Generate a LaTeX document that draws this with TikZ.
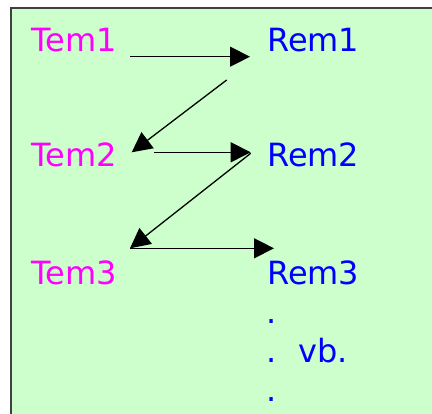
\documentclass[tikz,border=0pt]{standalone}
\usepackage{fontspec}
\setmainfont{DejaVu Sans}
\usetikzlibrary{arrows.meta}
\definecolor{boxfill}{HTML}{CCFFCC}
\definecolor{tcol}{HTML}{FF00FF}
\definecolor{rcol}{HTML}{0000FF}
\tikzset{
  lbl/.style={inner sep=0pt, anchor=base west, font=\fontsize{32}{38}\selectfont},
  tem/.style={lbl, text=tcol},
  rem/.style={lbl, text=rcol},
  arr/.style={line width=1.3pt, -{Triangle[length=20pt,width=20pt]}, shorten >=0pt}
}
\begin{document}
\begin{tikzpicture}[x=1pt,y=-1pt]
\useasboundingbox (0,0) rectangle (432,414);
\draw[fill=boxfill, draw=black!75, line width=2pt] (10.5,8) rectangle (445,430);
\node[tem] (t1) at (31,51.7) {Tem1};
\node[tem] (t2) at (31,166.7) {Tem2};
\node[tem] (t3) at (31,284.7) {Tem3};
\node[rem] (r1) at (267,51.7) {Rem1};
\node[rem] (r2) at (267,166.7) {Rem2};
\node[rem] (r3) at (267,284.7) {Rem3};
\node[rem] (d1) at (266,323.7) {.};
\node[rem] (d2) at (266,362.6) {.\hspace{22pt}vb.};
\node[rem] (d3) at (266,401.5) {.};
\coordinate (a1s) at (130,56.7);
\coordinate (a1e) at (250,56.7);
\coordinate (a2s) at (226.7,80);
\coordinate (a2e) at (131.7,152.3);
\coordinate (a3s) at (154,152.3);
\coordinate (a3e) at (250.7,152.3);
\coordinate (a4s) at (250.7,153.3);
\coordinate (a4e) at (130,248.3);
\coordinate (a5s) at (130,248.3);
\coordinate (a5e) at (274,248.3);
\draw[arr] (a1s) -- (a1e);
\draw[arr] (a2s) -- (a2e);
\draw[arr] (a3s) -- (a3e);
\draw[arr] (a4s) -- (a4e);
\draw[arr] (a5s) -- (a5e);
\end{tikzpicture}
\end{document}
